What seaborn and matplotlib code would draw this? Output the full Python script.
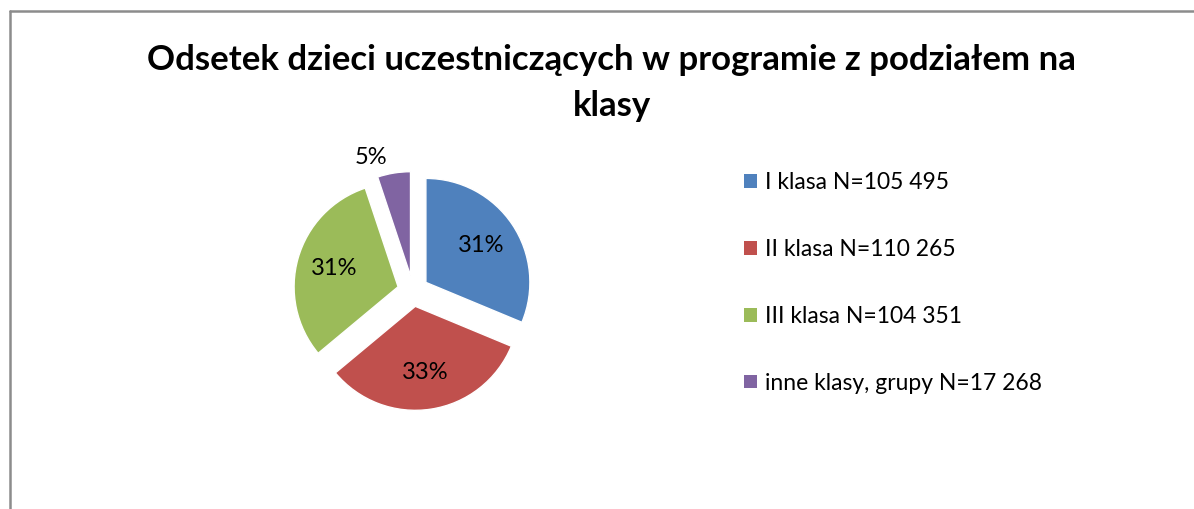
import matplotlib.pyplot as plt
import seaborn as sns
from matplotlib.patches import Patch
from matplotlib.lines import Line2D
import numpy as np

# Data
categories = ['I klasa N=105 495', 'II klasa N=110 265', 'III klasa N=104 351', 'inne klasy, grupy N=17 268']
counts = [105495, 110265, 104351, 17268]
colors = ['#4F81BD', '#C0504D', '#9BBB59', '#8064A2']
title_lines = ['Odsetek dzieci uczestniczących w programie z podziałem na', 'klasy']

sns.set_theme(style='white')
plt.rcParams['font.family'] = ['Lato', 'DejaVu Sans']
plt.rcParams['text.color'] = 'black'

W, H = 1194, 509
fig = plt.figure(figsize=(W / 100, H / 100), dpi=100)
ax = fig.add_axes([0, 0, 1, 1])

radius = 104
center = (413, H - 291)


def pct_label(p):
    return '' if p < 10 else '{:.0f}%'.format(p)


wedges, texts, autotexts = ax.pie(counts, colors=colors, startangle=90, counterclock=False,
                                  explode=[15.5] * len(counts), radius=radius, center=center,
                                  autopct=pct_label, pctdistance=0.64,
                                  textprops={'fontsize': 17, 'color': 'black'})

# small slice label goes outside, Excel "best fit" style
small = wedges[3]
ang = np.deg2rad(small.theta2)
share = counts[3] / sum(counts) * 100
ax.text(small.center[0] + 1.2 * radius * np.cos(ang), small.center[1] + 1.2 * radius * np.sin(ang),
        '{:.0f}%'.format(share), ha='center', va='center', fontsize=17, color='black')

ax.set_xlim(0, W)
ax.set_ylim(0, H)
ax.set_aspect('equal')
ax.axis('off')

# title
fig.text(611 / W, 1 - 60 / H, title_lines[0], ha='center', va='center', fontsize=25, fontweight='bold', color='black')
fig.text(612 / W, 1 - 106 / H, title_lines[1], ha='center', va='center', fontsize=25, fontweight='bold', color='black')

# legend
handles = [Patch(facecolor=c, edgecolor='none') for c in colors]
fig.legend(handles, categories, loc='upper left', bbox_to_anchor=(735 / W, 1 - 163 / H),
           frameon=False, fontsize=16.5, handlelength=0.55, handleheight=0.55,
           handletextpad=0.35, labelspacing=2.0, borderaxespad=0, labelcolor='black')

# chart area border (right and bottom edges are cut off)
border = '#8c8c8c'
fig.add_artist(Line2D([9.5 / W, 1.01], [1 - 11 / H, 1 - 11 / H], color=border, lw=1.8, transform=fig.transFigure))
fig.add_artist(Line2D([9.5 / W, 9.5 / W], [1 - 11 / H, -0.01], color=border, lw=1.8, transform=fig.transFigure))

fig.savefig('out.png', dpi=100, facecolor='white')
